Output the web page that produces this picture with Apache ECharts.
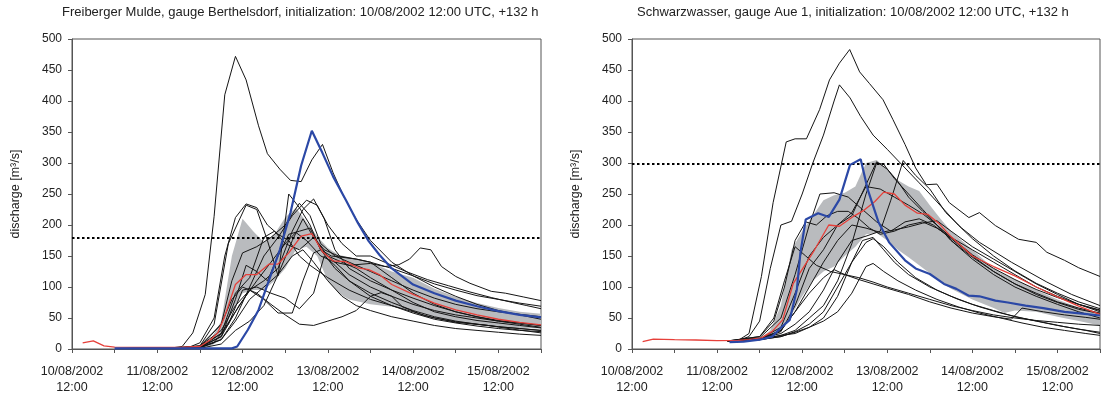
<!DOCTYPE html>
<html><head><meta charset="utf-8">
<script src="https://cdn.jsdelivr.net/npm/echarts@6/dist/echarts.min.js"></script>
<style>html,body{margin:0;padding:0;background:#fff}#c{width:1103px;height:396px}</style>
</head><body><div id="c"></div>
<script>
// ---- common axis data (hours after 10/08/2002 12:00 UTC) ----
const xMin = 0, xMax = 132, xStep = 12;
const xTickLabels = ['10/08/2002\n12:00','11/08/2002\n12:00','12/08/2002\n12:00','13/08/2002\n12:00','14/08/2002\n12:00','15/08/2002\n12:00'];
const yMin = 0, yMax = 500, yStep = 50;
const titles = ['Freiberger Mulde, gauge Berthelsdorf, initialization: 10/08/2002 12:00 UTC, +132 h',
                'Schwarzwasser, gauge Aue 1, initialization: 10/08/2002 12:00 UTC, +132 h'];
const yName = 'discharge [m³/s]';

// ---- left panel: Freiberger Mulde, Berthelsdorf ----
const lThreshold = 180;
const lObs = [[12,1],[45,1],[46.5,4],[49.5,31],[52.5,63],[55.5,112],[58.5,160],[61.5,220],[64.5,296],[67.5,352],[70.5,316],[73.5,278],[77,241],[80.5,203],[83.5,174],[86.5,152],[90,130],[96,104],[102,90],[108,78],[114,69],[120,61],[126,55],[132,51]];
const lMedian = [[3,10],[6,13],[9,5],[12,3],[18,2.5],[24,2.5],[30,2.5],[36,4],[39,15],[41,26],[43,53],[46,104],[49,120],[52,120],[55.5,137],[58,137],[61,155],[64.5,182],[67.5,186],[70.5,157],[73.5,142],[77,141],[80.5,131],[83.5,128],[86.5,120],[90,104],[96,88],[102,74],[108,63],[114,55],[120,48],[126,43],[132,39]];
const lBandHours = [36,39,42,45,48,51,54,57,60,63,66,69,72,75,78,84,90,96,102,108,114,120,126,132];
const lBandLow  = [2,5,15,60,90,95,95,110,130,160,165,150,110,90,80,72,68,62,52,45,40,37,34,33];
const lBandHigh = [5,15,45,150,210,190,172,185,212,228,205,182,163,152,148,140,125,115,97,84,74,66,60,57];
const lM1 = [[27,1],[31,4],[34,26],[37.5,88],[40,214],[43,410],[46,472],[49,434],[52.5,360],[55,315],[58.5,290],[61.5,272],[64.5,270],[67.5,305],[70.5,330],[73.5,284],[76.5,246],[80,209],[84,175],[90,140],[96,118],[102,100],[108,85],[114,72],[120,62],[126,55],[132,48]];
const lM2 = [[27,1],[33,3],[36,10],[40,50],[43,150],[46,212],[49,234],[52,228],[55,200],[58,185],[61,175],[64,150],[67,135],[72,115],[78,95],[84,80],[90,70],[96,60],[102,50],[108,44],[114,40],[120,36],[126,33],[132,30]];
const lM3 = [[27,1],[33,2],[36,5],[40,40],[44,170],[49,232],[52,225],[55,175],[58,118],[61,250],[64,228],[67,200],[70,160],[74,130],[78,110],[84,90],[90,75],[96,62],[102,52],[108,45],[114,40],[120,36],[126,33],[132,30]];
const lM4 = [[27,1],[36,5],[42,40],[45,110],[48,155],[52,165],[56,180],[60,200],[64,235],[67,215],[70,170],[74,150],[78,140],[84,125],[90,110],[96,95],[102,82],[108,72],[114,65],[120,60],[126,56],[132,52]];
const lM5 = [[27,1],[36,3],[42,20],[46,80],[49,135],[52,125],[55,110],[58,150],[61,185],[64,190],[67,195],[70,160],[73,150],[76,148],[80,145],[84,140],[90,130],[96,118],[102,105],[108,95],[114,86],[120,80],[126,74],[132,69]];
const lM6 = [[27,1],[36,3],[42,40],[45,80],[48,100],[52,90],[56,72],[60,55],[64,40],[68,38],[72,45],[76,52],[80,62],[84,85],[87,91],[90,85],[93,68],[99,54],[108,43],[117,38],[124,32],[132,26]];
const lM7 = [[27,1],[36,5],[42,30],[46,70],[50,95],[54,80],[58,58],[62,58],[65,110],[68,155],[70,160],[74,140],[78,120],[84,100],[90,85],[96,72],[102,62],[108,55],[114,50],[120,45],[126,42],[132,38]];
const lM8 = [[27,1],[36,4],[42,25],[46,60],[50,95],[54,110],[58,130],[62,190],[65,225],[68,242],[71,210],[74,160],[78,130],[84,110],[90,95],[96,82],[102,70],[108,60],[114,52],[120,46],[126,42],[132,38]];
const lM9 = [[27,1],[36,3],[42,20],[47,70],[52,110],[56,140],[60,170],[63,188],[66,175],[70,150],[74,140],[78,135],[84,138],[88,133],[92,136],[95,145],[98,163],[101,160],[104,133],[108,117],[112,106],[118,93],[122,90],[127,84],[132,78]];
const lM10 = [[27,1],[36,3],[42,15],[46,50],[50,100],[54,150],[58,180],[62,215],[66,240],[69,232],[72,200],[76,170],[80,150],[84,150],[88,140],[94,125],[100,112],[106,102],[112,92],[118,83],[124,75],[128,70],[132,65]];
const lM11 = [[27,1],[36,2],[42,15],[46,45],[50,80],[54,100],[58,120],[62,150],[65,160],[68,140],[72,110],[76,85],[80,70],[84,62],[90,52],[96,45],[102,38],[108,33],[114,30],[120,27],[126,24],[132,22]];
const lM12 = [[27,1],[36,2],[40,10],[44,40],[48,95],[52,100],[56,90],[60,82],[64,65],[68,90],[71,150],[74,135],[78,110],[84,85],[90,70],[96,58],[102,48],[108,42],[114,37],[120,33],[126,30],[132,28]];
const lM13 = [[27,1],[36,1],[42,8],[46,30],[50,45],[54,70],[58,120],[62,175],[65,210],[68,180],[71,160],[75,150],[80,145],[84,140],[90,115],[96,90],[102,72],[108,60],[114,52],[120,45],[126,40],[132,35]];
const lM14 = [[27,1],[36,2],[42,25],[46,90],[50,115],[54,180],[57,190],[60,170],[64,160],[68,180],[72,150],[76,140],[80,130],[84,115],[90,95],[96,75],[102,60],[108,52],[114,46],[120,42],[126,38],[132,34]];
const lMembers = [lM1,lM2,lM3,lM4,lM5,lM6,lM7,lM8,lM9,lM10,lM11,lM12,lM13,lM14];

// ---- right panel: Schwarzwasser, Aue 1 ----
const rThreshold = 298;
const rObs = [[27.5,11],[31.5,12],[36,15],[39.5,20],[42.5,37],[44.5,47],[46.5,96],[47.5,155],[49,209],[52.5,219],[55.5,213],[58.5,241],[61.5,297],[64.5,306],[66.5,257],[69.5,205],[72.5,172],[77,143],[80,130],[84,121],[88,105],[91.5,97],[95,86],[98,85],[102.5,78],[106,75],[111,70],[116,66],[122,60],[127,57],[132,54]];
const rMedian = [[3,12],[6,16],[12,15],[18,14.5],[24,13.5],[30,14],[33,15],[36.5,18],[39.5,28],[42.5,47],[45.5,106],[48.5,133],[51.5,160],[55.5,200],[58.5,198],[62.5,214],[65.5,224],[68.5,238],[71,253],[74,250],[77,232],[80.5,219],[83.5,217],[86.5,203],[89.5,184],[92.5,168],[96,150],[102,133],[108,118],[114,100],[120,84],[126,69],[132,56]];
const rBandHours = [36,39,42,45,48,51,54,57,60,63,66,69,72,75,78,81,84,87,90,96,102,105,108,114,120,126,132];
const rBandLow  = [14,18,28,55,85,110,125,133,150,165,185,187,175,160,148,135,122,108,97,80,66,58,62,60,52,45,38];
const rBandHigh = [17,30,70,160,190,215,240,248,252,262,300,305,290,272,262,255,232,210,190,160,130,120,112,95,80,67,57];
const rM1 = [[27,13],[30,14],[33,25],[36.5,117],[39.8,236],[43.5,334],[46,339],[49.2,339],[52.9,386],[55.7,434],[58.5,461],[61.4,483],[64.2,447],[67,428],[70.8,402],[73.6,370],[77,330],[80,292],[83,265],[86,266],[89.5,236],[95,212],[98,220],[102.5,199],[109,177],[114,172],[117,156],[122,143],[126,131],[132,117]];
const rM2 = [[27,13],[30,14],[33,20],[36,45],[39,130],[42,200],[45,206],[48,250],[51,300],[54,345],[57,400],[58.5,426],[61.5,405],[64.5,375],[68,345],[72,322],[77,292],[81,268],[84,250],[88,225],[92,200],[96,178],[102,150],[108,126],[114,106],[120,90],[126,76],[132,65]];
const rM3 = [[27,13],[36,17],[42,25],[46,40],[50,60],[54,95],[58,140],[62,175],[66,182],[70,190],[73,240],[76.5,304],[80,280],[84,258],[88.5,220],[93,195],[98,172],[107,140],[117,108],[124,88],[132,70]];
const rM4 = [[27,13],[36,16],[42,30],[46,60],[50,100],[54,140],[58,175],[62,200],[66,195],[70,188],[74,192],[78,197],[82,203],[86,207],[90,190],[96,165],[102,145],[108,125],[114,105],[120,88],[126,72],[132,60]];
const rM5 = [[27,13],[36,16],[42,22],[46,30],[50,50],[54,70],[58,110],[62,170],[66,250],[69,300],[71,298],[74,275],[78,250],[82,225],[86,200],[90,175],[96,148],[102,125],[108,105],[114,88],[120,75],[126,64],[132,57]];
const rM6 = [[27,13],[36,16],[42,35],[46,90],[50,150],[54,180],[58,200],[62,215],[66,265],[69,302],[72,290],[75,270],[78,245],[82,222],[86,200],[90,175],[96,145],[102,120],[108,100],[114,85],[120,72],[126,60],[132,50]];
const rM7 = [[27,13],[36,15],[42,20],[46,28],[50,40],[54,60],[58,100],[62,140],[65,175],[68,180],[71,160],[74,140],[78,120],[84,100],[90,85],[96,72],[102,62],[108,52],[114,45],[120,38],[126,32],[132,27]];
const rM8 = [[27,13],[36,15],[42,20],[46,27],[50,35],[54,45],[58,60],[62,90],[66,133],[68,138],[71,125],[75,110],[80,95],[86,80],[92,68],[98,58],[104,50],[110,42],[116,35],[122,30],[128,25],[132,22]];
const rM9 = [[27,13],[36,15],[42,22],[46,25],[50,35],[54,50],[58,85],[62,140],[66,172],[68,178],[71,165],[75,140],[80,115],[86,95],[92,80],[98,68],[104,58],[110,50],[116,43],[122,36],[128,30],[132,25]];
const rM10 = [[27,13],[36,16],[42,30],[46,60],[50,90],[54,115],[57,128],[60,120],[64,112],[68,105],[72,98],[78,88],[84,76],[90,66],[96,58],[102,52],[107,48],[110,66],[116,60],[122,55],[128,51],[132,48]];
const rM11 = [[27,13],[36,20],[40,50],[43,110],[46,165],[49,150],[52,135],[56,125],[60,120],[64,115],[68,108],[72,100],[78,90],[84,80],[90,70],[96,62],[102,55],[108,50],[114,46],[120,43],[126,40],[132,38]];
const rM12 = [[27,13],[36,20],[40,45],[43,100],[46,175],[49,205],[52,200],[55,215],[58,222],[61,222],[64,210],[67,195],[70,185],[74,190],[78,200],[82,205],[86,195],[90,180],[96,160],[102,140],[108,120],[114,100],[120,85],[126,72],[132,62]];
const rM13 = [[27,13],[36,16],[42,28],[46,70],[50,130],[54,160],[58,200],[62,220],[66,262],[70,258],[74,245],[78,232],[82,218],[86,200],[90,180],[96,152],[102,130],[108,112],[114,96],[120,83],[126,72],[132,63]];
const rM14 = [[27,13],[36,18],[42,50],[46,120],[50,200],[53,250],[57,252],[61,245],[65,225],[69,205],[73,190],[77,205],[81,210],[85,200],[90,178],[96,150],[102,125],[108,105],[114,90],[120,76],[126,66],[132,58]];
const rMembers = [rM1,rM2,rM3,rM4,rM5,rM6,rM7,rM8,rM9,rM10,rM11,rM12,rM13,rM14];

// ---- styles ----
const FONT = 'Liberation Sans, Arial, sans-serif';
const TXT = '#222';
const AX = '#555';
const C_MEMBER = '#151515', C_MEDIAN = '#e6403a', C_OBS = '#2b48a6', C_BAND = '#b9bbbe';

const chart = echarts.init(document.getElementById('c'), null, {renderer: 'canvas'});

function xAxis(gi) {
  return {
    type: 'value', gridIndex: gi, min: xMin, max: xMax, interval: xStep,
    axisLine: {show: true, lineStyle: {color: AX, width: 1}},
    axisTick: {show: true, length: 4, lineStyle: {color: AX}},
    splitLine: {show: false},
    axisLabel: {
      color: TXT, fontFamily: FONT, fontSize: 12.5, lineHeight: 16, margin: 15,
      formatter: v => (v % 24 === 0 && v / 24 < xTickLabels.length) ? xTickLabels[v / 24] : ''
    }
  };
}
function yAxis(gi) {
  return {
    type: 'value', gridIndex: gi, min: yMin, max: yMax, interval: yStep,
    name: yName, nameLocation: 'middle', nameGap: 50,
    nameTextStyle: {color: TXT, fontFamily: FONT, fontSize: 12.5},
    axisLine: {show: true, lineStyle: {color: AX, width: 1}},
    axisTick: {show: true, length: 4, lineStyle: {color: AX}},
    splitLine: {show: false},
    axisLabel: {color: TXT, fontFamily: FONT, fontSize: 12, margin: 10}
  };
}
function line(data, gi, color, width, z) {
  return {type: 'line', xAxisIndex: gi, yAxisIndex: gi, data: data, symbol: 'none', showSymbol: false,
          lineStyle: {color: color, width: width}, z: z, silent: true, animation: false, clip: true};
}
function band(hours, lo, hi, gi) {
  return {
    type: 'custom', xAxisIndex: gi, yAxisIndex: gi, data: [[hours[0], lo[0]]], z: 1, silent: true, clip: true,
    animation: false,
    renderItem: function (params, api) {
      const pts = [];
      for (let i = 0; i < hours.length; i++) pts.push(api.coord([hours[i], hi[i]]));
      for (let i = hours.length - 1; i >= 0; i--) pts.push(api.coord([hours[i], lo[i]]));
      return {type: 'polygon', shape: {points: pts}, style: {fill: C_BAND}};
    }
  };
}
function panel(gi, members, median, obs, bH, bL, bU, thr) {
  const s = [band(bH, bL, bU, gi)];
  members.forEach(m => s.push(line(m, gi, C_MEMBER, 1, 3)));
  s.push(line(median, gi, C_MEDIAN, 1.3, 4));
  const o = line(obs, gi, C_OBS, 2.2, 5);
  o.markLine = {symbol: 'none', silent: true, animation: false, label: {show: false},
                lineStyle: {color: '#000', width: 2, type: [2.5, 2.5]}, data: [{yAxis: thr}]};
  s.push(o);
  return s;
}

chart.setOption({
  animation: false,
  backgroundColor: '#fff',
  title: [
    {text: titles[0], left: 62, top: 6, padding: 0, textStyle: {color: TXT, fontFamily: FONT, fontSize: 13, fontWeight: 'normal'}},
    {text: titles[1], left: 637, top: 6, padding: 0, textStyle: {color: TXT, fontFamily: FONT, fontSize: 13, fontWeight: 'normal'}}
  ],
  grid: [
    {left: 72, right: 562, top: 39, bottom: 46, show: true, borderColor: AX, borderWidth: 1, backgroundColor: 'transparent'},
    {left: 632, right: 2, top: 39, bottom: 46, show: true, borderColor: AX, borderWidth: 1, backgroundColor: 'transparent'}
  ],
  xAxis: [xAxis(0), xAxis(1)],
  yAxis: [yAxis(0), yAxis(1)],
  series: [].concat(
    panel(0, lMembers, lMedian, lObs, lBandHours, lBandLow, lBandHigh, lThreshold),
    panel(1, rMembers, rMedian, rObs, rBandHours, rBandLow, rBandHigh, rThreshold)
  )
});
</script></body></html>
